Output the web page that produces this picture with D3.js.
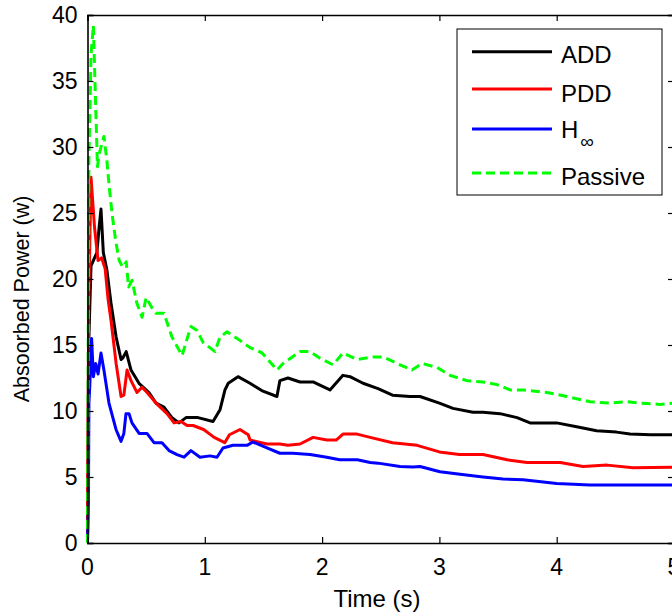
<!DOCTYPE html>
<html>
<head>
<meta charset="utf-8">
<script src="https://cdn.jsdelivr.net/npm/d3@7"></script>
<style>
    body { margin: 0; background: #fff; }
    svg { display: block; font-family: 'Liberation Sans', Arial, sans-serif; }
</style>
</head>
<body>
<div class="chart"></div>
<script>
// Values (time in s, power in w)
const seriesNames = ['ADD', 'PDD', 'H', 'Passive'];
const xTicks = [0, 1, 2, 3, 4, 5];
const yTicks = [0, 5, 10, 15, 20, 25, 30, 35, 40];

const addTime = [0, 0.01, 0.03, 0.08, 0.1, 0.115, 0.135, 0.165, 0.2, 0.244, 0.286, 0.3, 0.33, 0.371, 0.439, 0.524, 0.584, 0.652, 0.72, 0.78, 0.84, 0.942, 1.07, 1.13, 1.172, 1.2, 1.283, 1.385, 1.496, 1.615, 1.64, 1.709, 1.812, 1.923, 2.067, 2.178, 2.238, 2.349, 2.477, 2.6, 2.75, 2.835, 3.0, 3.116, 3.286, 3.372, 3.517, 3.662, 3.773, 4.0, 4.17, 4.34, 4.51, 4.625, 4.8, 5];
const addPower = [0, 15, 21, 22, 24, 25.3, 22, 20.7, 18.2, 15.6, 13.9, 14.0, 14.5, 13.1, 12.1, 11.4, 10.6, 10.3, 9.5, 9.1, 9.5, 9.5, 9.2, 10.1, 11.6, 12.1, 12.6, 12.1, 11.5, 11.1, 12.3, 12.5, 12.2, 12.2, 11.6, 12.7, 12.6, 12.1, 11.7, 11.2, 11.1, 11.1, 10.6, 10.2, 9.9, 9.9, 9.8, 9.5, 9.1, 9.1, 8.8, 8.5, 8.4, 8.25, 8.2, 8.2];

const pddTime = [0, 0.01, 0.03, 0.06, 0.09, 0.12, 0.15, 0.175, 0.2, 0.244, 0.286, 0.31, 0.337, 0.371, 0.422, 0.465, 0.508, 0.584, 0.678, 0.738, 0.797, 0.849, 0.9, 0.99, 1.08, 1.17, 1.21, 1.3, 1.37, 1.386, 1.53, 1.64, 1.709, 1.812, 1.923, 2.04, 2.12, 2.178, 2.298, 2.41, 2.6, 2.81, 3.0, 3.17, 3.372, 3.577, 3.747, 4.03, 4.224, 4.43, 4.65, 5];
const pddPower = [0, 18, 27.7, 23.9, 21.4, 21.6, 20.8, 18.5, 16.9, 13.6, 11.1, 11.2, 13.1, 12.3, 11.4, 11.8, 11.4, 10.6, 9.8, 9.1, 9.2, 8.9, 8.9, 8.6, 8.0, 7.6, 8.2, 8.6, 8.2, 7.8, 7.5, 7.5, 7.4, 7.5, 8.0, 7.8, 7.8, 8.25, 8.25, 8.0, 7.6, 7.4, 6.9, 6.7, 6.7, 6.3, 6.1, 6.1, 5.8, 5.9, 5.7, 5.75];

const hinfTime = [0, 0.008, 0.012, 0.02, 0.035, 0.05, 0.07, 0.09, 0.115, 0.14, 0.183, 0.243, 0.286, 0.31, 0.328, 0.354, 0.379, 0.44, 0.507, 0.567, 0.635, 0.695, 0.763, 0.823, 0.882, 0.959, 1.044, 1.104, 1.155, 1.24, 1.36, 1.41, 1.53, 1.64, 1.75, 1.897, 2.04, 2.15, 2.3, 2.41, 2.477, 2.664, 2.775, 2.835, 3.005, 3.176, 3.372, 3.542, 3.713, 4.0, 4.284, 5];
const hinfPower = [0, 3, 10.6, 12, 15.5, 12.6, 13.6, 12.8, 14.4, 13.1, 10.6, 8.6, 7.7, 8.3, 9.8, 9.8, 9.1, 8.3, 8.3, 7.6, 7.6, 7.0, 6.7, 6.5, 7.0, 6.5, 6.6, 6.5, 7.2, 7.4, 7.4, 7.65, 7.2, 6.8, 6.8, 6.7, 6.5, 6.3, 6.3, 6.1, 6.05, 5.8, 5.75, 5.8, 5.4, 5.2, 5.0, 4.85, 4.8, 4.5, 4.4, 4.4];

const passiveTime = [0, 0.012, 0.03, 0.05, 0.07, 0.085, 0.1, 0.14, 0.165, 0.185, 0.21, 0.24, 0.27, 0.3, 0.33, 0.35, 0.38, 0.42, 0.465, 0.5, 0.55, 0.584, 0.652, 0.72, 0.806, 0.85, 0.882, 0.934, 0.985, 1.087, 1.13, 1.19, 1.275, 1.386, 1.488, 1.616, 1.667, 1.81, 1.897, 1.982, 2.093, 2.178, 2.298, 2.434, 2.519, 2.664, 2.766, 2.852, 2.98, 3.091, 3.236, 3.372, 3.491, 3.602, 3.713, 3.917, 4.088, 4.284, 4.455, 4.6, 4.71, 4.88, 5];
const passivePower = [0, 29, 37, 39.2, 33, 28.5, 29.5, 30.8, 29, 27, 24.9, 22.9, 21.4, 20.9, 21.3, 19.4, 19.9, 18.2, 17.1, 18.6, 17.8, 17.4, 17.4, 15.6, 14.2, 15.5, 16.4, 16.1, 15.2, 14.5, 15.6, 16.0, 15.5, 14.8, 14.4, 13.1, 13.6, 14.5, 14.5, 14.0, 13.5, 14.4, 13.9, 14.1, 14.1, 13.5, 13.1, 13.6, 13.3, 12.7, 12.3, 12.2, 12.0, 11.6, 11.6, 11.4, 11.1, 10.7, 10.6, 10.7, 10.6, 10.5, 10.6];

const WIDTH = 672;
const HEIGHT = 616;
const MARGINS = { top: 15, right: -2, bottom: 73, left: 87.5 };
const TICK = 6;

const series = [
    { name: seriesNames[0], time: addTime, power: addPower, color: '#000000', dash: null },
    { name: seriesNames[1], time: pddTime, power: pddPower, color: '#ff0000', dash: null },
    { name: seriesNames[2], time: hinfTime, power: hinfPower, color: '#0000ff', dash: null },
    { name: seriesNames[3], time: passiveTime, power: passivePower, color: '#00ff00', dash: '9,5' }
];

const svg = d3
    .select('.chart')
    .append('svg')
    .attr('width', WIDTH)
    .attr('height', HEIGHT);

const xScale = d3
    .scaleLinear()
    .domain([0, 5])
    .range([MARGINS.left, WIDTH - MARGINS.right]);
const yScale = d3
    .scaleLinear()
    .domain([0, 40])
    .range([HEIGHT - MARGINS.bottom, MARGINS.top]);

// Curves
const line = d3
    .line()
    .x((d) => xScale(d[0]))
    .y((d) => yScale(d[1]));

series.forEach((s) => {
    svg.append('path')
        .datum(d3.zip(s.time, s.power))
        .attr('fill', 'none')
        .attr('stroke', s.color)
        .attr('stroke-width', 3)
        .attr('stroke-linejoin', 'round')
        .attr('stroke-dasharray', s.dash)
        .attr('d', line);
});

// Axes, matlab style: box on, ticks pointing inward
const bottomAxis = svg.append('g')
    .attr('transform', `translate(0, ${yScale(0)})`)
    .call(d3.axisTop(xScale).tickValues(xTicks).tickSize(TICK).tickFormat(''));
const topAxis = svg.append('g')
    .attr('transform', `translate(0, ${yScale(40)})`)
    .call(d3.axisBottom(xScale).tickValues(xTicks).tickSize(TICK).tickFormat(''));
const leftAxis = svg.append('g')
    .attr('transform', `translate(${xScale(0)}, 0)`)
    .call(d3.axisRight(yScale).tickValues(yTicks).tickSize(TICK).tickFormat(''));
const rightAxis = svg.append('g')
    .attr('transform', `translate(${xScale(5)}, 0)`)
    .call(d3.axisLeft(yScale).tickValues(yTicks).tickSize(TICK).tickFormat(''));

[bottomAxis, topAxis, leftAxis, rightAxis].forEach((a) => {
    a.select('.domain').attr('stroke', '#000').attr('stroke-width', 1.6);
    a.selectAll('.tick line').attr('stroke', '#000').attr('stroke-width', 1.2);
});

// Tick labels
svg.append('g')
    .selectAll('text')
    .data(xTicks)
    .join('text')
    .attr('x', (d) => xScale(d))
    .attr('y', yScale(0) + 32)
    .attr('text-anchor', 'middle')
    .attr('font-size', 23)
    .text((d) => d);

svg.append('g')
    .selectAll('text')
    .data(yTicks)
    .join('text')
    .attr('x', xScale(0) - 10)
    .attr('y', (d) => yScale(d) + 8)
    .attr('text-anchor', 'end')
    .attr('font-size', 23)
    .text((d) => d);

// Axis titles
svg.append('text')
    .attr('x', 377)
    .attr('y', 607)
    .attr('text-anchor', 'middle')
    .attr('font-size', 24)
    .text('Time (s)');

svg.append('text')
    .attr('transform', 'translate(29, 299) rotate(-90)')
    .attr('text-anchor', 'middle')
    .attr('font-size', 21.5)
    .text('Absoorbed Power (w)');

// Legend
const legend = svg.append('g');
legend.append('rect')
    .attr('x', 457)
    .attr('y', 29)
    .attr('width', 205)
    .attr('height', 166)
    .attr('fill', '#fff')
    .attr('stroke', '#000')
    .attr('stroke-width', 1);

const legendLineY = [51.7, 89, 129, 173];
const legendTextY = [63, 101.5, 138, 185];
series.forEach((s, i) => {
    legend.append('line')
        .attr('x1', 472)
        .attr('x2', 552)
        .attr('y1', legendLineY[i])
        .attr('y2', legendLineY[i])
        .attr('stroke', s.color)
        .attr('stroke-width', 3)
        .attr('stroke-dasharray', s.dash);
    const label = legend.append('text')
        .attr('x', 561)
        .attr('y', legendTextY[i])
        .attr('font-size', 24)
        .text(s.name);
    if (s.name === 'H') {
        label.append('tspan')
            .attr('dx', 2)
            .attr('dy', 10)
            .attr('font-size', 19)
            .text('\u221e');
    }
});
</script>
</body>
</html>
